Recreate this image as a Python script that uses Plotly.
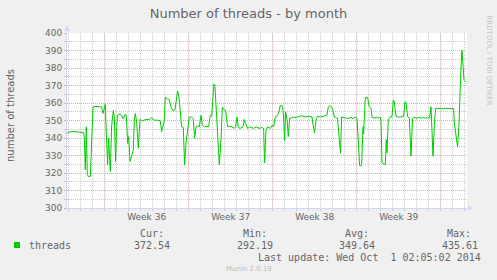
import plotly.graph_objects as go

# ---- data (x = days since Monday 2014-09-01 00:00) ----
days = [-3.136, -2.944, -2.669, -2.386, -2.111, -1.753, -1.694, -1.611, -1.528, -1.444,
        -1.336, -1.194, -1.086, -0.969, -0.719, -0.444, -0.253, -0.136, -0.053, 0.056,
        0.164, 0.248, 0.331, 0.473, 0.581, 0.723, 0.806, 0.914, 0.998, 1.081,
        1.281, 1.448, 1.556, 1.698, 1.806, 1.914, 1.998, 2.114, 2.248, 2.389,
        2.473, 2.556, 2.664, 2.806, 2.948, 3.164, 3.448, 3.723, 3.914, 4.139,
        4.414, 4.639, 4.748, 4.864, 4.973, 5.056, 5.198, 5.389, 5.531, 5.664,
        5.864, 5.973, 6.081, 6.198, 6.306, 6.414, 6.556, 6.664, 6.781, 6.914,
        7.056, 7.248, 7.389, 7.498, 7.614, 7.748, 7.889, 8.031, 8.139, 8.306,
        8.531, 8.664, 8.806, 8.914, 9.031, 9.114, 9.198, 9.306, 9.414, 9.556,
        9.698, 9.806, 9.914, 10.081, 10.248, 10.414, 10.581, 10.806, 10.914, 11.031,
        11.139, 11.306, 11.531, 11.639, 11.748, 11.914, 12.081, 12.248, 12.414, 12.639,
        12.864, 13.081, 13.248, 13.331, 13.448, 13.581, 13.806, 13.973, 14.081, 14.223,
        14.364, 14.498, 14.639, 14.831, 14.914, 14.998, 15.081, 15.198, 15.306, 15.414,
        15.581, 15.748, 15.948, 16.223, 16.498, 16.781, 17.056, 17.281, 17.414, 17.498,
        17.614, 17.748, 17.973, 18.248, 18.531, 18.639, 18.806, 18.998, 19.139, 19.281,
        19.414, 19.531, 19.664, 19.748, 19.973, 20.248, 20.531, 20.698, 20.864, 21.031,
        21.139, 21.248, 21.414, 21.531, 21.581, 21.639, 21.723, 21.914, 22.056, 22.198,
        22.281, 22.473, 22.639, 22.806, 22.948, 23.031, 23.114, 23.223, 23.389, 23.473,
        23.531, 23.639, 23.781, 23.948, 24.056, 24.139, 24.281, 24.473, 24.698, 24.914,
        25.031, 25.114, 25.248, 25.389, 25.531, 25.664, 25.806, 26.031, 26.223, 26.414,
        26.581, 26.748, 26.914, 27.081, 27.198, 27.281, 27.364, 27.473, 27.581, 27.748,
        27.973, 28.198, 28.414, 28.639, 28.914, 29.081, 29.139, 29.281, 29.414, 29.531,
        29.614, 29.698, 29.781, 29.864, 29.948, 30.056]

threads = [342.6, 343.4, 343.8, 343.4, 343.4, 343.0, 340.4, 321.9, 346.4, 319.0,
           318.0, 318.0, 337.0, 357.7, 358.1, 357.7, 357.7, 354.0, 355.8, 359.2,
           338.9, 324.7, 339.8, 320.9, 346.4, 355.8, 352.0, 326.6, 346.4, 353.0,
           353.6, 352.5, 351.0, 353.4, 353.0, 337.0, 340.8, 326.6, 329.4, 333.2,
           350.2, 354.0, 349.2, 334.2, 350.6, 349.8, 350.6, 350.6, 351.7, 350.2,
           350.2, 349.8, 343.6, 347.4, 349.8, 363.4, 362.5, 361.9, 357.7, 355.8,
           356.2, 361.5, 366.8, 363.4, 354.0, 346.4, 346.0, 324.7, 337.0, 346.4,
           352.0, 352.0, 351.0, 339.8, 346.4, 346.8, 346.4, 353.0, 347.4, 346.4,
           346.8, 346.4, 353.0, 352.5, 363.4, 370.9, 369.0, 355.8, 344.5, 324.7,
           338.9, 357.7, 356.2, 355.8, 346.4, 346.8, 346.4, 345.5, 346.4, 352.0,
           346.0, 345.5, 346.4, 350.6, 348.3, 345.5, 346.4, 345.8, 345.5, 346.4,
           345.5, 346.0, 345.5, 325.7, 344.5, 346.4, 345.5, 347.4, 346.4, 352.0,
           352.5, 354.0, 358.7, 358.1, 352.0, 338.5, 354.9, 351.1, 340.8, 351.1,
           351.7, 352.0, 351.7, 352.5, 352.5, 352.0, 352.5, 352.0, 345.5, 343.0,
           350.2, 352.5, 352.0, 352.5, 353.0, 357.7, 358.5, 356.8, 352.0, 351.7,
           351.1, 340.8, 331.3, 352.0, 351.7, 351.1, 351.7, 351.1, 352.0, 351.1,
           338.9, 324.2, 324.2, 346.4, 342.3, 350.4, 363.2, 363.2, 357.9, 357.0,
           351.9, 351.3, 351.9, 351.3, 351.9, 350.4, 325.8, 325.3, 324.9, 339.1,
           331.5, 350.4, 351.9, 352.3, 361.7, 360.8, 352.3, 351.9, 351.9, 352.3,
           360.8, 360.2, 352.3, 351.3, 329.6, 351.3, 351.9, 351.3, 351.9, 351.3,
           351.9, 351.1, 351.9, 351.3, 357.9, 340.9, 329.6, 346.6, 357.0, 356.8,
           357.0, 356.6, 357.0, 356.8, 357.0, 356.8, 348.5, 340.9, 334.9, 348.5,
           367.4, 380.6, 390.0, 380.6, 373.0, 372.1]

week_starts = [0, 7, 14, 21, 28]
week_labels = ["Week 36", "Week 37", "Week 38", "Week 39"]
x_range = [-3.136, 30.198]
y_range = [300, 400]

series_name = "threads"
stat_heads = ["Cur:", "Min:", "Avg:", "Max:"]
stat_values = ["372.54", "292.19", "349.64", "435.61"]
last_update = "Last update: Wed Oct \u00a01 02:05:02 2014"

# ---- styling ----
FONT = "DejaVu Sans"
MONO = "DejaVu Sans Mono"
TXT = "#666666"
AXIS = "#CFD6F8"
MGRID = "#F5A3A3"
GRID = "#CACACA"
GREEN = "#00CC00"

W, H = 497, 280
L, R, T, B = 67, 30, 33, 72
PW, PH = W - L - R, H - T - B


def px_x(px):
    return (px - L) / PW


def px_y(py):
    return (H - B - py) / PH


fig = go.Figure()
fig.add_trace(go.Scatter(x=days, y=threads, mode="lines",
                         line=dict(color=GREEN, width=1), name=series_name,
                         hoverinfo="skip", showlegend=False))

fig.update_layout(
    width=W, height=H,
    margin=dict(l=L, r=R, t=T, b=B, pad=0),
    paper_bgcolor="#F0F0F0", plot_bgcolor="#FFFFFF",
    font=dict(family=FONT, size=9, color=TXT),
    title=dict(text="Number of threads - by month", x=248.5 / W, xanchor="center",
               y=1 - 13.5 / H, yanchor="middle", font=dict(size=13, color=TXT)),
    showlegend=False,
)

fig.update_xaxes(
    range=x_range, tickmode="array",
    tickvals=[w + 3.5 for w in week_starts[:-1]], ticktext=week_labels,
    ticks="", showgrid=False, zeroline=False,
    showline=True, linecolor=AXIS, linewidth=1,
    tickfont=dict(size=9, color=TXT),
    minor=dict(tick0=0, dtick=1, showgrid=True, gridcolor=GRID, griddash="1px,1px",
               gridwidth=1, ticks="outside", ticklen=2, tickcolor=GRID),
)
fig.update_yaxes(
    range=y_range, tickmode="linear", tick0=300, dtick=10,
    showgrid=True, gridcolor=MGRID, griddash="1px,1px", gridwidth=1,
    zeroline=False, showline=True, linecolor=AXIS, linewidth=1,
    ticks="outside", ticklen=2, tickcolor=MGRID,
    tickfont=dict(size=9, color=TXT),
    minor=dict(tick0=300, dtick=5, showgrid=True, gridcolor=GRID, griddash="1px,1px",
               gridwidth=1, ticks="outside", ticklen=2, tickcolor=GRID),
)

# major (week) grid lines
for w in week_starts:
    fig.add_shape(type="line", xref="x", yref="paper", x0=w, x1=w, y0=-2.5 / PH, y1=1,
                  line=dict(color=MGRID, width=1, dash="1px,1px"), layer="between")

anns = []
# axis arrows
anns.append(dict(xref="paper", yref="paper", x=0, y=1 + 7 / PH, ax=0, ay=7,
                 axref="pixel", ayref="pixel", showarrow=True, arrowhead=2,
                 arrowsize=1, arrowwidth=1, arrowcolor=AXIS, text=""))
anns.append(dict(xref="paper", yref="paper", x=1 + 6 / PW, y=0, ax=-6, ay=0,
                 axref="pixel", ayref="pixel", showarrow=True, arrowhead=2,
                 arrowsize=1, arrowwidth=1, arrowcolor=AXIS, text=""))
# y-axis title
anns.append(dict(xref="paper", yref="paper", x=px_x(11), y=px_y(115), text="number of threads",
                 textangle=-90, showarrow=False, xanchor="center", yanchor="middle",
                 font=dict(family=FONT, size=10, color=TXT)))
# watermark
anns.append(dict(xref="paper", yref="paper", x=px_x(488.5), y=px_y(60),
                 text="RRDTOOL / TOBI OETIKER", textangle=90, showarrow=False,
                 xanchor="center", yanchor="middle",
                 font=dict(family=FONT, size=7, color="#C4C4C4")))
# legend row
anns.append(dict(xref="paper", yref="paper", x=px_x(27), y=px_y(245), text=series_name,
                 showarrow=False, xanchor="left", yanchor="middle",
                 font=dict(family=MONO, size=10, color=TXT)))
head_cx = [151.5, 254.5, 357.0, 458.5]
val_cx = [152.0, 255.0, 357.0, 459.5]
for h, v, hx, vx in zip(stat_heads, stat_values, head_cx, val_cx):
    anns.append(dict(xref="paper", yref="paper", x=px_x(hx), y=px_y(233.5), text=h,
                     showarrow=False, xanchor="center", yanchor="middle",
                     font=dict(family=MONO, size=10, color=TXT)))
    anns.append(dict(xref="paper", yref="paper", x=px_x(vx), y=px_y(245), text=v,
                     showarrow=False, xanchor="center", yanchor="middle",
                     font=dict(family=MONO, size=10, color=TXT)))
anns.append(dict(xref="paper", yref="paper", x=px_x(483), y=px_y(257), text=last_update,
                 showarrow=False, xanchor="right", yanchor="middle",
                 font=dict(family=MONO, size=10, color=TXT)))
anns.append(dict(xref="paper", yref="paper", x=px_x(249), y=px_y(269), text="Munin 2.0.19",
                 showarrow=False, xanchor="center", yanchor="middle",
                 font=dict(family=FONT, size=7, color="#BBBBBB")))
fig.update_layout(annotations=anns)

# legend colour box
fig.add_shape(type="rect", xref="paper", yref="paper",
              x0=px_x(14), x1=px_x(20), y0=px_y(248), y1=px_y(242),
              fillcolor=GREEN, line=dict(width=0), layer="above")

fig.write_html("out.html", config={"displayModeBar": False})
